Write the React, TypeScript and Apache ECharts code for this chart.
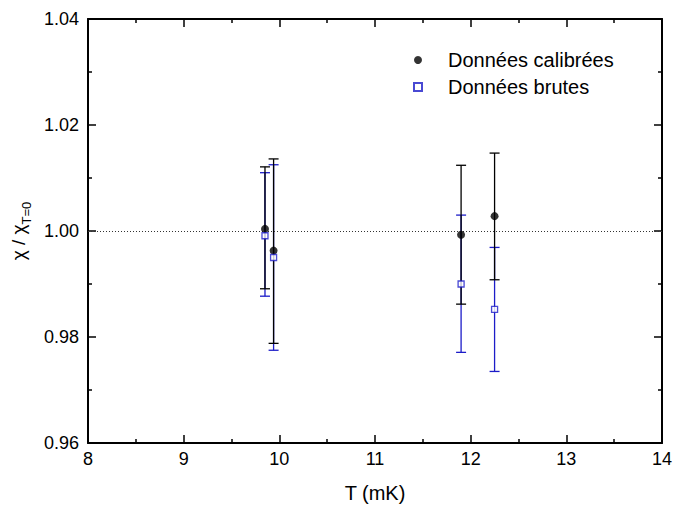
import React, { useEffect, useRef } from "react";
import * as echarts from "echarts";

// Temperatures (mK)
const temperatures = [9.85, 9.94, 11.9, 12.25];
// Données calibrées
const calibratedValues = [1.0004, 0.9963, 0.9993, 1.0028];
const calibratedLow = [0.9891, 0.9788, 0.9862, 0.9908];
const calibratedHigh = [1.0121, 1.0136, 1.0124, 1.0147];
// Données brutes
const rawValues = [0.9991, 0.995, 0.99, 0.9852];
const rawLow = [0.9877, 0.9775, 0.9771, 0.9735];
const rawHigh = [1.011, 1.0125, 1.003, 0.9969];
// Reference line
const referenceLevel = 1.0;

const BLACK = "#000000";
const BLUE = "#1c1cc8";
const FONT = "'Liberation Sans', Arial, Helvetica, sans-serif";

function errorBarSeries(name: string, low: number[], high: number[], color: string, z: number) {
  return {
    name,
    type: "custom",
    z,
    silent: true,
    data: temperatures.map((t, i) => [t, low[i], high[i]]),
    encode: { x: 0, y: [1, 2] },
    renderItem: (params: any, api: any) => {
      const x = api.value(0);
      const lo = api.coord([x, api.value(1)]);
      const hi = api.coord([x, api.value(2)]);
      const hw = 5;
      const style = { stroke: color, lineWidth: 1.3, fill: "none" };
      return {
        type: "group",
        children: [
          { type: "line", shape: { x1: lo[0], y1: lo[1], x2: hi[0], y2: hi[1] }, style },
          { type: "line", shape: { x1: lo[0] - hw, y1: lo[1], x2: lo[0] + hw, y2: lo[1] }, style },
          { type: "line", shape: { x1: hi[0] - hw, y1: hi[1], x2: hi[0] + hw, y2: hi[1] }, style },
        ],
      };
    },
  };
}

export default function App() {
  const ref = useRef<HTMLDivElement>(null);
  useEffect(() => {
    document.body.style.margin = "0";
    if (!ref.current) return;
    const chart = echarts.init(ref.current, undefined, { renderer: "svg" });
    const axisCommon = {
      type: "value",
      axisLine: { show: true, onZero: false, lineStyle: { color: BLACK, width: 2 } },
      axisTick: { show: true, inside: true, length: 8, lineStyle: { color: BLACK, width: 1.5 } },
      minorTick: { show: true, splitNumber: 2, length: 4, lineStyle: { color: BLACK, width: 1.5 } },
      splitLine: { show: false },
    };
    chart.setOption({
      animation: false,
      backgroundColor: "#ffffff",
      textStyle: { fontFamily: FONT },
      grid: { left: 88, right: 9, top: 19, bottom: 65 },
      legend: {
        orient: "vertical",
        left: 408,
        top: 45,
        itemWidth: 8,
        itemHeight: 8,
        itemGap: 7,
        textStyle: { fontSize: 20, color: "#000", fontFamily: FONT, padding: [0, 0, 0, 21] },
        data: ["Données calibrées", "Données brutes"],
      },
      xAxis: [
        {
          ...axisCommon,
          position: "bottom",
          min: 8,
          max: 14,
          interval: 1,
          name: "T (mK)",
          nameLocation: "middle",
          nameGap: 40,
          nameTextStyle: { fontSize: 20, color: "#000", fontFamily: FONT },
          axisLabel: { show: true, fontSize: 18, color: "#000", margin: 7, fontFamily: FONT },
        },
        {
          ...axisCommon,
          position: "top",
          min: 8,
          max: 14,
          interval: 1,
          axisLabel: { show: false },
        },
      ],
      yAxis: [
        {
          ...axisCommon,
          position: "left",
          min: 0.96,
          max: 1.04,
          interval: 0.02,
          name: "{m|χ / χ}{s|T=0}",
          nameLocation: "middle",
          nameGap: 54,
          nameRotate: 90,
          nameTextStyle: {
            rich: {
              m: { fontSize: 19, color: "#000", fontFamily: FONT, lineHeight: 24, verticalAlign: "top" },
              s: { fontSize: 13, color: "#000", fontFamily: FONT, lineHeight: 24, verticalAlign: "bottom", padding: [12, 0, 0, 0] },
            },
          },
          axisLabel: {
            show: true,
            fontSize: 18,
            color: "#000",
            margin: 9,
            fontFamily: FONT,
            formatter: (v: number) => v.toFixed(2),
          },
        },
        {
          ...axisCommon,
          position: "right",
          min: 0.96,
          max: 1.04,
          interval: 0.02,
          axisLabel: { show: false },
        },
      ],
      series: [
        errorBarSeries("err-brutes", rawLow, rawHigh, BLUE, 2),
        errorBarSeries("err-calib", calibratedLow, calibratedHigh, BLACK, 3),
        {
          name: "Données calibrées",
          type: "scatter",
          z: 5,
          symbol: "circle",
          symbolSize: 8,
          itemStyle: { color: BLACK },
          data: temperatures.map((t, i) => [t, calibratedValues[i]]),
          markLine: {
            silent: true,
            symbol: "none",
            label: { show: false },
            lineStyle: { color: "#333", type: [1, 2], width: 1 },
            data: [{ yAxis: referenceLevel }],
          },
        },
        {
          name: "Données brutes",
          type: "scatter",
          z: 6,
          symbol: "rect",
          symbolSize: 6,
          itemStyle: { color: "#ffffff", borderColor: BLUE, borderWidth: 1.3 },
          data: temperatures.map((t, i) => [t, rawValues[i]]),
        },
      ],
    });
    return () => chart.dispose();
  }, []);
  return <div ref={ref} style={{ width: 675, height: 508 }} />;
}
